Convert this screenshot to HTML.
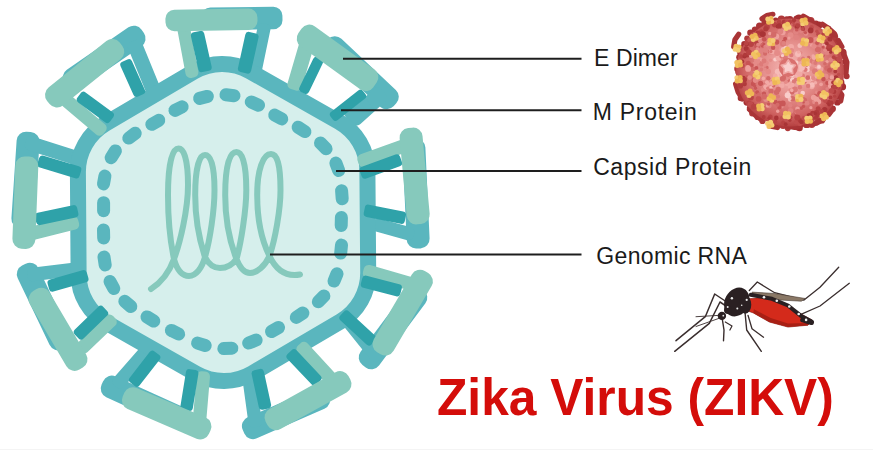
<!DOCTYPE html>
<html><head><meta charset="utf-8"><style>
html,body{margin:0;padding:0;background:#fff;}
body{width:873px;height:450px;overflow:hidden;position:relative;font-family:"Liberation Sans",sans-serif;}
svg{position:absolute;left:0;top:0;}
.lb{position:absolute;font-size:23px;color:#1a1a1a;white-space:nowrap;line-height:1;}
.ttl{position:absolute;font-size:51.3px;font-weight:bold;color:#d40d0a;white-space:nowrap;line-height:1;transform-origin:0 0;transform:scaleX(0.969);}
</style></head><body>
<svg width="873" height="450" viewBox="0 0 873 450">
<polygon points="210.5,20.9 273.5,20.3 273.4,15.8 210.4,16.4" fill="#5ab6be" stroke="#5ab6be" stroke-width="18" stroke-linejoin="round"/>
<polygon points="262.5,28.1 252.9,74.5 255.9,75.1 265.5,28.7" fill="#5ab6be" stroke="#5ab6be" stroke-width="10" stroke-linejoin="round"/>
<polygon points="332.2,48.6 386.6,99.8 389.3,96.9 334.9,45.7" fill="#5ab6be" stroke="#5ab6be" stroke-width="19.0" stroke-linejoin="round"/>
<polygon points="377.4,92.6 352.4,115.2 357.1,120.4 382.1,97.8" fill="#5ab6be" stroke="#5ab6be" stroke-width="10" stroke-linejoin="round"/>
<polygon points="411.9,148.1 416.1,239.1 420.1,238.9 415.9,147.9" fill="#5ab6be" stroke="#5ab6be" stroke-width="19.0" stroke-linejoin="round"/>
<polygon points="377.2,226.7 408.6,235.4 409.5,232.0 378.1,223.3" fill="#5ab6be" stroke="#5ab6be" stroke-width="10" stroke-linejoin="round"/>
<polygon points="414.6,295.2 368.2,357.4 371.4,359.8 417.8,297.6" fill="#5ab6be" stroke="#5ab6be" stroke-width="19.0" stroke-linejoin="round"/>
<polygon points="344.0,318.6 374.7,357.0 377.4,354.8 346.7,316.4" fill="#5ab6be" stroke="#5ab6be" stroke-width="10" stroke-linejoin="round"/>
<polygon points="319.0,396.4 251.4,426.0 253.0,429.6 320.6,400.0" fill="#5ab6be" stroke="#5ab6be" stroke-width="19.0" stroke-linejoin="round"/>
<polygon points="247.1,376.5 253.4,422.5 256.9,422.1 250.6,376.1" fill="#5ab6be" stroke="#5ab6be" stroke-width="10" stroke-linejoin="round"/>
<polygon points="181.4,416.7 111.8,385.1 110.2,388.7 179.8,420.3" fill="#5ab6be" stroke="#5ab6be" stroke-width="19.0" stroke-linejoin="round"/>
<polygon points="144.0,350.9 117.3,381.4 120.0,383.7 146.7,353.2" fill="#5ab6be" stroke="#5ab6be" stroke-width="10" stroke-linejoin="round"/>
<polygon points="61.7,338.9 29.9,272.3 26.3,274.1 58.1,340.7" fill="#5ab6be" stroke="#5ab6be" stroke-width="19.0" stroke-linejoin="round"/>
<polygon points="32.5,276.3 83.9,269.9 83.5,266.4 32.1,272.8" fill="#5ab6be" stroke="#5ab6be" stroke-width="10" stroke-linejoin="round"/>
<polygon points="24.9,219.1 30.1,141.4 26.1,141.2 20.9,218.9" fill="#5ab6be" stroke="#5ab6be" stroke-width="19.0" stroke-linejoin="round"/>
<polygon points="29.6,145.4 74.4,159.8 75.7,155.6 30.9,141.2" fill="#5ab6be" stroke="#5ab6be" stroke-width="10" stroke-linejoin="round"/>
<polygon points="74.5,80.8 136.1,38.5 133.8,35.2 72.2,77.5" fill="#5ab6be" stroke="#5ab6be" stroke-width="19.0" stroke-linejoin="round"/>
<polygon points="132.8,46.6 150.6,90.0 155.2,88.1 137.4,44.7" fill="#5ab6be" stroke="#5ab6be" stroke-width="10" stroke-linejoin="round"/>
<polygon points="343,113 366,99 374,110 352,126" fill="#5ab6be"/>
<path d="M195.0,71.5 A56,56 0 0 1 251.0,71.5 L339.8,122.8 A56,56 0 0 1 367.8,171.3 L367.8,273.7 A56,56 0 0 1 339.8,322.2 L251.0,373.5 A56,56 0 0 1 195.0,373.5 L106.2,322.2 A56,56 0 0 1 78.2,273.7 L78.3,171.3 A56,56 0 0 1 106.3,122.8 Z" fill="#d6efec" stroke="#5ab6be" stroke-width="16" transform="rotate(-0.45 223 222.5)"/>
<polygon points="182.5,30.0 190.5,73.0 193.4,72.4 185.4,29.4" fill="#86c9bc" stroke="#86c9bc" stroke-width="10" stroke-linejoin="round"/>
<polygon points="303.8,45.3 292.4,84.3 297.2,85.7 308.6,46.7" fill="#86c9bc" stroke="#86c9bc" stroke-width="10" stroke-linejoin="round"/>
<polygon points="405.5,143.4 362.3,159.0 363.5,162.3 406.7,146.7" fill="#86c9bc" stroke="#86c9bc" stroke-width="10" stroke-linejoin="round"/>
<polygon points="367.8,273.3 412.6,286.1 413.5,282.7 368.7,269.9" fill="#86c9bc" stroke="#86c9bc" stroke-width="10" stroke-linejoin="round"/>
<polygon points="301.4,349.2 332.0,382.5 334.6,380.1 304.0,346.8" fill="#86c9bc" stroke="#86c9bc" stroke-width="10" stroke-linejoin="round"/>
<polygon points="201.5,376.2 197.6,422.2 201.1,422.4 205.0,376.4" fill="#86c9bc" stroke="#86c9bc" stroke-width="10" stroke-linejoin="round"/>
<polygon points="109.4,319.4 81.5,346.0 83.9,348.6 111.8,322.0" fill="#86c9bc" stroke="#86c9bc" stroke-width="10" stroke-linejoin="round"/>
<polygon points="73.3,221.2 32.5,231.4 33.4,234.8 74.2,224.6" fill="#86c9bc" stroke="#86c9bc" stroke-width="10" stroke-linejoin="round"/>
<polygon points="66.3,102.7 99.4,130.7 101.7,128.0 68.6,100.0" fill="#86c9bc" stroke="#86c9bc" stroke-width="10" stroke-linejoin="round"/>
<polygon points="194.4,35.7 201.8,68.7 208.2,67.3 200.8,34.3" fill="#2fa2a9" stroke="#2fa2a9" stroke-width="7.0" stroke-linejoin="round"/>
<polygon points="248.7,35.4 241.4,68.7 247.7,70.1 255.1,36.8" fill="#2fa2a9" stroke="#2fa2a9" stroke-width="7.0" stroke-linejoin="round"/>
<polygon points="316.4,60.3 302.7,88.8 305.8,90.4 319.5,61.9" fill="#2fa2a9" stroke="#2fa2a9" stroke-width="7.0" stroke-linejoin="round"/>
<polygon points="360.4,93.3 333.4,114.5 335.6,117.3 362.6,96.1" fill="#2fa2a9" stroke="#2fa2a9" stroke-width="7.0" stroke-linejoin="round"/>
<polygon points="365.0,175.2 398.6,162.9 396.7,157.8 363.1,170.1" fill="#2fa2a9" stroke="#2fa2a9" stroke-width="7.0" stroke-linejoin="round"/>
<polygon points="367.2,213.5 401.4,220.4 402.5,215.0 368.3,208.1" fill="#2fa2a9" stroke="#2fa2a9" stroke-width="7.0" stroke-linejoin="round"/>
<polygon points="364.3,284.4 397.0,292.9 398.4,287.6 365.7,279.1" fill="#2fa2a9" stroke="#2fa2a9" stroke-width="7.0" stroke-linejoin="round"/>
<polygon points="342.9,318.0 368.9,342.0 372.6,338.0 346.6,314.0" fill="#2fa2a9" stroke="#2fa2a9" stroke-width="7.0" stroke-linejoin="round"/>
<polygon points="290.0,356.5 314.0,381.9 318.0,378.1 294.0,352.7" fill="#2fa2a9" stroke="#2fa2a9" stroke-width="7.0" stroke-linejoin="round"/>
<polygon points="255.1,373.6 262.2,406.3 267.6,405.1 260.5,372.4" fill="#2fa2a9" stroke="#2fa2a9" stroke-width="7.0" stroke-linejoin="round"/>
<polygon points="189.4,372.6 183.9,406.5 189.4,407.4 194.9,373.5" fill="#2fa2a9" stroke="#2fa2a9" stroke-width="7.0" stroke-linejoin="round"/>
<polygon points="152.4,354.2 132.5,379.8 136.9,383.2 156.8,357.6" fill="#2fa2a9" stroke="#2fa2a9" stroke-width="7.0" stroke-linejoin="round"/>
<polygon points="100.8,309.3 77.3,332.0 81.1,336.0 104.6,313.3" fill="#2fa2a9" stroke="#2fa2a9" stroke-width="7.0" stroke-linejoin="round"/>
<polygon points="52.5,288.2 85.0,278.9 83.5,273.6 51.0,282.9" fill="#2fa2a9" stroke="#2fa2a9" stroke-width="7.0" stroke-linejoin="round"/>
<polygon points="39.6,221.6 74.9,214.0 73.7,208.6 38.4,216.2" fill="#2fa2a9" stroke="#2fa2a9" stroke-width="7.0" stroke-linejoin="round"/>
<polygon points="40.9,164.2 76.2,174.9 77.8,169.7 42.5,159.0" fill="#2fa2a9" stroke="#2fa2a9" stroke-width="7.0" stroke-linejoin="round"/>
<polygon points="80.3,99.6 107.2,119.5 110.4,115.1 83.5,95.2" fill="#2fa2a9" stroke="#2fa2a9" stroke-width="7.0" stroke-linejoin="round"/>
<polygon points="123.8,64.9 136.6,93.3 141.6,91.1 128.8,62.7" fill="#2fa2a9" stroke="#2fa2a9" stroke-width="7.0" stroke-linejoin="round"/>
<polygon points="174.5,22.2 248.5,21.0 248.4,17.5 174.4,18.7" fill="#86c9bc" stroke="#86c9bc" stroke-width="18" stroke-linejoin="round"/>
<polygon points="306.2,38.6 365.7,81.6 368.9,77.1 309.4,34.1" fill="#86c9bc" stroke="#86c9bc" stroke-width="19.0" stroke-linejoin="round"/>
<polygon points="409.1,137.5 416.2,214.9 420.2,214.5 413.1,137.1" fill="#86c9bc" stroke="#86c9bc" stroke-width="19.0" stroke-linejoin="round"/>
<polygon points="420.0,279.3 382.0,344.0 385.4,346.0 423.4,281.3" fill="#86c9bc" stroke="#86c9bc" stroke-width="19.0" stroke-linejoin="round"/>
<polygon points="340.1,380.6 274.0,417.2 275.9,420.7 342.0,384.1" fill="#86c9bc" stroke="#86c9bc" stroke-width="19.0" stroke-linejoin="round"/>
<polygon points="201.9,426.3 133.0,396.7 131.4,400.3 200.3,429.9" fill="#86c9bc" stroke="#86c9bc" stroke-width="19.0" stroke-linejoin="round"/>
<polygon points="78.0,359.4 41.4,297.3 38.0,299.3 74.6,361.4" fill="#86c9bc" stroke="#86c9bc" stroke-width="19.0" stroke-linejoin="round"/>
<polygon points="25.9,239.4 28.8,166.1 24.8,165.9 21.9,239.2" fill="#86c9bc" stroke="#86c9bc" stroke-width="19.0" stroke-linejoin="round"/>
<polygon points="57.0,98.1 114.8,51.6 112.3,48.5 54.5,95.0" fill="#86c9bc" stroke="#86c9bc" stroke-width="19.0" stroke-linejoin="round"/>
<line x1="226.0" y1="94.7" x2="234.0" y2="95.7" stroke="#5ab6be" stroke-width="13" stroke-linecap="round"/>
<line x1="251.3" y1="102.0" x2="258.5" y2="105.2" stroke="#5ab6be" stroke-width="13" stroke-linecap="round"/>
<line x1="274.7" y1="115.1" x2="281.7" y2="118.9" stroke="#5ab6be" stroke-width="13" stroke-linecap="round"/>
<line x1="298.1" y1="127.2" x2="304.9" y2="131.6" stroke="#5ab6be" stroke-width="13" stroke-linecap="round"/>
<line x1="320.5" y1="143.0" x2="326.1" y2="148.8" stroke="#5ab6be" stroke-width="13" stroke-linecap="round"/>
<line x1="335.9" y1="163.1" x2="338.7" y2="170.5" stroke="#5ab6be" stroke-width="13" stroke-linecap="round"/>
<line x1="341.6" y1="190.8" x2="342.2" y2="198.8" stroke="#5ab6be" stroke-width="13" stroke-linecap="round"/>
<line x1="341.4" y1="217.5" x2="341.2" y2="225.5" stroke="#5ab6be" stroke-width="13" stroke-linecap="round"/>
<line x1="341.5" y1="245.1" x2="340.7" y2="253.1" stroke="#5ab6be" stroke-width="13" stroke-linecap="round"/>
<line x1="337.0" y1="273.7" x2="334.0" y2="281.1" stroke="#5ab6be" stroke-width="13" stroke-linecap="round"/>
<line x1="323.9" y1="296.0" x2="318.3" y2="301.8" stroke="#5ab6be" stroke-width="13" stroke-linecap="round"/>
<line x1="302.9" y1="313.0" x2="296.3" y2="317.4" stroke="#5ab6be" stroke-width="13" stroke-linecap="round"/>
<line x1="278.5" y1="327.5" x2="271.5" y2="331.5" stroke="#5ab6be" stroke-width="13" stroke-linecap="round"/>
<line x1="256.1" y1="340.1" x2="248.7" y2="343.1" stroke="#5ab6be" stroke-width="13" stroke-linecap="round"/>
<line x1="231.8" y1="348.2" x2="223.8" y2="348.6" stroke="#5ab6be" stroke-width="13" stroke-linecap="round"/>
<line x1="205.2" y1="345.5" x2="197.6" y2="343.1" stroke="#5ab6be" stroke-width="13" stroke-linecap="round"/>
<line x1="178.6" y1="334.0" x2="171.4" y2="330.4" stroke="#5ab6be" stroke-width="13" stroke-linecap="round"/>
<line x1="153.8" y1="321.1" x2="147.0" y2="316.9" stroke="#5ab6be" stroke-width="13" stroke-linecap="round"/>
<line x1="130.8" y1="306.5" x2="124.8" y2="301.3" stroke="#5ab6be" stroke-width="13" stroke-linecap="round"/>
<line x1="113.8" y1="288.5" x2="110.0" y2="281.5" stroke="#5ab6be" stroke-width="13" stroke-linecap="round"/>
<line x1="105.2" y1="264.9" x2="104.0" y2="257.1" stroke="#5ab6be" stroke-width="13" stroke-linecap="round"/>
<line x1="103.7" y1="238.0" x2="103.5" y2="230.0" stroke="#5ab6be" stroke-width="13" stroke-linecap="round"/>
<line x1="103.6" y1="210.7" x2="103.6" y2="202.7" stroke="#5ab6be" stroke-width="13" stroke-linecap="round"/>
<line x1="103.5" y1="183.9" x2="104.9" y2="176.1" stroke="#5ab6be" stroke-width="13" stroke-linecap="round"/>
<line x1="111.2" y1="157.7" x2="115.4" y2="150.9" stroke="#5ab6be" stroke-width="13" stroke-linecap="round"/>
<line x1="128.8" y1="138.1" x2="135.2" y2="133.3" stroke="#5ab6be" stroke-width="13" stroke-linecap="round"/>
<line x1="151.8" y1="124.3" x2="158.8" y2="120.3" stroke="#5ab6be" stroke-width="13" stroke-linecap="round"/>
<line x1="175.0" y1="110.4" x2="182.2" y2="106.8" stroke="#5ab6be" stroke-width="13" stroke-linecap="round"/>
<line x1="199.6" y1="98.4" x2="207.4" y2="96.4" stroke="#5ab6be" stroke-width="13" stroke-linecap="round"/>
<path d="M151,289 C162,282 170,270 174,259 C180,243 188,210 188,185 C188,160 184,148.5 178.5,148.5 C172,148.5 168,165 168,195 C168,225 171,245 174,259 C177,270 182,276 189,276 C196,276 202,268 205,257 C210,240 214.5,210 214.5,190 C214.5,165 210.5,155 205,155 C199,155 195.2,170 195.2,195 C195.2,225 201,245 205,257 C209,265 214,268 220,268 C227,268 233,264 236.5,259 C241,243 246.3,210 246.3,190 C246.3,163 242,152 236.5,152 C229,152 225.2,168 225.2,195 C225.2,225 231,245 236.5,259 C240,268 245,273 250,273 C257,273 265,266 269.5,256 C275,240 280.5,210 280.5,190 C280.5,164 277,154 271,154 C263,154 257.2,170 257.2,195 C257.2,225 263,243 269.5,256 C276,270 286,277 300,274.5" fill="none" stroke="#86c9bc" stroke-width="6" stroke-linecap="round" stroke-linejoin="round"/>
<line x1="343" y1="58.7" x2="581.5" y2="58.7" stroke="#1e1e1e" stroke-width="2"/>
<line x1="341" y1="110.2" x2="581.5" y2="110.2" stroke="#1e1e1e" stroke-width="2"/>
<line x1="336" y1="171" x2="581.5" y2="171" stroke="#1e1e1e" stroke-width="2"/>
<line x1="270" y1="254.5" x2="581.5" y2="254.5" stroke="#1e1e1e" stroke-width="2"/>
<defs><radialGradient id="sg" cx="50%" cy="47%" r="55%"><stop offset="0" stop-color="#f6bcb9"/><stop offset="0.45" stop-color="#e58f8c"/><stop offset="0.78" stop-color="#d06462"/><stop offset="1" stop-color="#b03a3b"/></radialGradient></defs>
<circle cx="843.9" cy="71.7" r="2.9" fill="#a52f32"/>
<circle cx="846.6" cy="76.2" r="3.0" fill="#a93436"/>
<circle cx="841.1" cy="82.4" r="3.3" fill="#a52f32"/>
<circle cx="842.3" cy="86.7" r="3.8" fill="#a52f32"/>
<circle cx="838.2" cy="92.8" r="3.4" fill="#a93436"/>
<circle cx="836.7" cy="96.5" r="3.1" fill="#a52f32"/>
<circle cx="837.3" cy="102.4" r="3.2" fill="#a52f32"/>
<circle cx="832.6" cy="108.7" r="3.3" fill="#a52f32"/>
<circle cx="828.8" cy="110.8" r="3.3" fill="#b03a3b"/>
<circle cx="825.3" cy="113.8" r="2.9" fill="#b03a3b"/>
<circle cx="822.0" cy="120.5" r="3.1" fill="#a93436"/>
<circle cx="817.6" cy="120.6" r="3.0" fill="#b03a3b"/>
<circle cx="811.9" cy="124.6" r="3.4" fill="#b03a3b"/>
<circle cx="806.5" cy="124.4" r="3.7" fill="#a93436"/>
<circle cx="799.5" cy="127.9" r="3.3" fill="#a52f32"/>
<circle cx="797.3" cy="127.2" r="3.1" fill="#a52f32"/>
<circle cx="787.8" cy="128.1" r="3.1" fill="#b03a3b"/>
<circle cx="783.1" cy="125.3" r="3.8" fill="#b03a3b"/>
<circle cx="781.2" cy="123.8" r="2.9" fill="#b03a3b"/>
<circle cx="776.2" cy="123.4" r="3.2" fill="#b03a3b"/>
<circle cx="771.1" cy="122.8" r="3.4" fill="#a93436"/>
<circle cx="762.4" cy="121.0" r="3.1" fill="#b03a3b"/>
<circle cx="757.7" cy="116.9" r="3.2" fill="#a93436"/>
<circle cx="757.9" cy="113.9" r="3.1" fill="#a93436"/>
<circle cx="752.2" cy="113.4" r="3.0" fill="#b03a3b"/>
<circle cx="750.0" cy="108.1" r="3.2" fill="#a52f32"/>
<circle cx="747.1" cy="102.1" r="3.7" fill="#a52f32"/>
<circle cx="741.0" cy="97.9" r="3.3" fill="#a52f32"/>
<circle cx="740.1" cy="91.8" r="3.2" fill="#a93436"/>
<circle cx="738.8" cy="88.1" r="3.0" fill="#a93436"/>
<circle cx="739.0" cy="82.9" r="3.5" fill="#a93436"/>
<circle cx="738.2" cy="79.7" r="2.9" fill="#b03a3b"/>
<circle cx="738.2" cy="72.0" r="3.0" fill="#b03a3b"/>
<circle cx="737.4" cy="68.8" r="3.2" fill="#b03a3b"/>
<circle cx="738.9" cy="62.4" r="3.3" fill="#b03a3b"/>
<circle cx="739.2" cy="57.2" r="3.0" fill="#a52f32"/>
<circle cx="740.9" cy="52.9" r="3.7" fill="#a93436"/>
<circle cx="743.7" cy="47.7" r="3.8" fill="#b03a3b"/>
<circle cx="744.1" cy="43.7" r="2.8" fill="#a52f32"/>
<circle cx="747.1" cy="38.5" r="2.9" fill="#b03a3b"/>
<circle cx="750.4" cy="32.8" r="3.2" fill="#a93436"/>
<circle cx="755.0" cy="29.6" r="3.2" fill="#a93436"/>
<circle cx="759.6" cy="26.1" r="3.6" fill="#a93436"/>
<circle cx="765.0" cy="22.8" r="3.6" fill="#a93436"/>
<circle cx="768.2" cy="23.2" r="3.6" fill="#a93436"/>
<circle cx="775.6" cy="20.6" r="3.0" fill="#a52f32"/>
<circle cx="781.4" cy="19.4" r="3.8" fill="#b03a3b"/>
<circle cx="786.7" cy="19.3" r="3.0" fill="#a93436"/>
<circle cx="789.9" cy="19.3" r="3.3" fill="#a52f32"/>
<circle cx="796.7" cy="19.0" r="3.5" fill="#a52f32"/>
<circle cx="798.9" cy="18.4" r="3.8" fill="#a52f32"/>
<circle cx="806.7" cy="21.3" r="3.0" fill="#a52f32"/>
<circle cx="810.6" cy="20.9" r="3.9" fill="#b03a3b"/>
<circle cx="816.0" cy="23.5" r="3.0" fill="#a93436"/>
<circle cx="819.1" cy="25.1" r="3.5" fill="#a52f32"/>
<circle cx="828.0" cy="28.6" r="3.2" fill="#a52f32"/>
<circle cx="828.1" cy="34.7" r="3.6" fill="#a93436"/>
<circle cx="834.3" cy="36.3" r="3.8" fill="#a93436"/>
<circle cx="833.6" cy="40.9" r="3.6" fill="#b03a3b"/>
<circle cx="837.1" cy="46.2" r="3.8" fill="#b03a3b"/>
<circle cx="843.2" cy="52.4" r="3.4" fill="#a52f32"/>
<circle cx="840.7" cy="55.5" r="3.8" fill="#a93436"/>
<circle cx="844.8" cy="62.1" r="3.0" fill="#a52f32"/>
<circle cx="844.9" cy="68.1" r="3.4" fill="#a52f32"/>
<polyline points="842.9,51.3 846.9,62.2 846.0,73.1" fill="none" stroke="#a93436" stroke-width="5.2" stroke-linecap="round" stroke-linejoin="round"/>
<polyline points="822.6,24.3 828.9,28.6 834.5,33.6" fill="none" stroke="#a93436" stroke-width="5.2" stroke-linecap="round" stroke-linejoin="round"/>
<polyline points="803.4,16.2 808.6,19.3 813.9,23.6" fill="none" stroke="#a93436" stroke-width="5.2" stroke-linecap="round" stroke-linejoin="round"/>
<polyline points="837.6,88.6 841.9,94.9 840.7,101.1" fill="none" stroke="#a93436" stroke-width="5.2" stroke-linecap="round" stroke-linejoin="round"/>
<polyline points="829.5,105.1 832.6,109.5 828.9,114.5" fill="none" stroke="#a93436" stroke-width="5.2" stroke-linecap="round" stroke-linejoin="round"/>
<polyline points="808.6,125.0 816.4,123.2 823.3,119.4" fill="none" stroke="#a93436" stroke-width="5.2" stroke-linecap="round" stroke-linejoin="round"/>
<polyline points="786.9,126.0 794.7,127.5 801.5,125.0" fill="none" stroke="#a93436" stroke-width="5.2" stroke-linecap="round" stroke-linejoin="round"/>
<polyline points="738.7,34.2 734.9,39.8 733.7,46.7" fill="none" stroke="#a93436" stroke-width="5.2" stroke-linecap="round" stroke-linejoin="round"/>
<polyline points="735.6,84.0 738.0,91.8 742.4,98.9" fill="none" stroke="#a93436" stroke-width="5.2" stroke-linecap="round" stroke-linejoin="round"/>
<polyline points="749.5,109.5 755.8,115.7 762.9,120.7" fill="none" stroke="#a93436" stroke-width="5.2" stroke-linecap="round" stroke-linejoin="round"/>
<polyline points="762.0,18.7 766.7,15.6 772.9,14.3" fill="none" stroke="#a93436" stroke-width="5.2" stroke-linecap="round" stroke-linejoin="round"/>
<polyline points="838.2,40.4 841.9,46.7" fill="none" stroke="#a93436" stroke-width="5.2" stroke-linecap="round" stroke-linejoin="round"/>
<polyline points="769.8,126.0 777.5,127.5" fill="none" stroke="#a93436" stroke-width="5.2" stroke-linecap="round" stroke-linejoin="round"/>
<circle cx="790" cy="72.5" r="54" fill="url(#sg)"/>
<circle cx="743.6" cy="77.6" r="1.9" fill="#b03a3b"/>
<circle cx="782.2" cy="118.3" r="2.4" fill="#c04c4c"/>
<circle cx="793.2" cy="22.0" r="2.1" fill="#c04c4c"/>
<circle cx="830.6" cy="65.6" r="2.6" fill="#d46a68"/>
<circle cx="753.1" cy="83.9" r="2.3" fill="#c85454"/>
<circle cx="790.6" cy="110.8" r="2.9" fill="#e08280"/>
<circle cx="808.6" cy="57.6" r="1.8" fill="#d46a68"/>
<circle cx="815.4" cy="96.8" r="2.5" fill="#c95757"/>
<circle cx="768.0" cy="83.1" r="2.7" fill="#f2aaa6"/>
<circle cx="806.6" cy="60.0" r="2.5" fill="#f2aaa6"/>
<circle cx="772.2" cy="92.3" r="3.0" fill="#e58b88"/>
<circle cx="799.8" cy="123.2" r="2.8" fill="#c04c4c"/>
<circle cx="812.5" cy="109.4" r="1.8" fill="#d46a68"/>
<circle cx="755.5" cy="88.3" r="2.2" fill="#e08280"/>
<circle cx="780.0" cy="85.1" r="1.6" fill="#f2aaa6"/>
<circle cx="756.9" cy="60.8" r="2.1" fill="#c95757"/>
<circle cx="761.4" cy="69.4" r="1.8" fill="#dd7a78"/>
<circle cx="812.1" cy="60.1" r="1.7" fill="#dd7a78"/>
<circle cx="783.1" cy="122.4" r="2.0" fill="#b84242"/>
<circle cx="813.6" cy="97.5" r="2.7" fill="#eea09c"/>
<circle cx="788.9" cy="92.9" r="2.4" fill="#f6bcb8"/>
<circle cx="785.1" cy="57.4" r="2.7" fill="#dd7a78"/>
<circle cx="810.4" cy="118.2" r="2.9" fill="#a93436"/>
<circle cx="758.5" cy="37.1" r="2.5" fill="#b03a3b"/>
<circle cx="794.7" cy="99.3" r="2.2" fill="#dd7a78"/>
<circle cx="769.1" cy="105.8" r="2.5" fill="#e08280"/>
<circle cx="832.9" cy="84.5" r="3.0" fill="#b03a3b"/>
<circle cx="788.3" cy="95.0" r="2.5" fill="#f2aaa6"/>
<circle cx="766.4" cy="67.8" r="2.3" fill="#d46a68"/>
<circle cx="803.6" cy="100.5" r="3.0" fill="#c95757"/>
<circle cx="797.0" cy="74.2" r="2.4" fill="#f6bcb8"/>
<circle cx="803.5" cy="106.4" r="1.7" fill="#c85454"/>
<circle cx="804.6" cy="40.9" r="2.4" fill="#c85454"/>
<circle cx="829.9" cy="39.0" r="2.6" fill="#a93436"/>
<circle cx="820.8" cy="69.1" r="2.6" fill="#eea09c"/>
<circle cx="823.6" cy="113.0" r="2.8" fill="#b03a3b"/>
<circle cx="831.7" cy="76.2" r="2.2" fill="#e08280"/>
<circle cx="830.6" cy="87.2" r="2.8" fill="#c85454"/>
<circle cx="776.5" cy="47.8" r="2.6" fill="#e58b88"/>
<circle cx="811.9" cy="78.9" r="2.2" fill="#f2aaa6"/>
<circle cx="785.7" cy="124.2" r="1.9" fill="#a93436"/>
<circle cx="818.8" cy="66.2" r="1.9" fill="#f2aaa6"/>
<circle cx="782.2" cy="85.7" r="2.3" fill="#f2aaa6"/>
<circle cx="801.4" cy="108.3" r="1.7" fill="#c95757"/>
<circle cx="798.2" cy="54.2" r="1.7" fill="#f6bcb8"/>
<circle cx="818.9" cy="76.6" r="1.7" fill="#e58b88"/>
<circle cx="837.2" cy="59.6" r="2.5" fill="#b84242"/>
<circle cx="779.5" cy="24.0" r="2.7" fill="#c04c4c"/>
<circle cx="783.2" cy="35.9" r="2.6" fill="#e08280"/>
<circle cx="783.1" cy="63.8" r="2.6" fill="#f9cdca"/>
<circle cx="755.4" cy="69.7" r="2.7" fill="#eea09c"/>
<circle cx="814.5" cy="101.9" r="2.4" fill="#e58b88"/>
<circle cx="792.6" cy="66.3" r="2.4" fill="#f2aaa6"/>
<circle cx="824.2" cy="45.2" r="2.5" fill="#eea09c"/>
<circle cx="799.3" cy="78.0" r="2.1" fill="#f2aaa6"/>
<circle cx="828.2" cy="102.1" r="2.5" fill="#b03a3b"/>
<circle cx="759.4" cy="41.4" r="2.0" fill="#c85454"/>
<circle cx="776.5" cy="76.2" r="2.9" fill="#f6bcb8"/>
<circle cx="822.2" cy="93.5" r="2.6" fill="#eea09c"/>
<circle cx="789.8" cy="86.9" r="1.9" fill="#f2aaa6"/>
<circle cx="791.0" cy="47.1" r="3.0" fill="#f2aaa6"/>
<circle cx="757.3" cy="73.7" r="2.9" fill="#c85454"/>
<circle cx="787.3" cy="83.6" r="2.5" fill="#f2aaa6"/>
<circle cx="808.0" cy="82.0" r="2.5" fill="#f2aaa6"/>
<circle cx="775.4" cy="33.4" r="1.6" fill="#d46a68"/>
<circle cx="815.5" cy="82.7" r="1.7" fill="#f2aaa6"/>
<circle cx="797.5" cy="108.8" r="2.3" fill="#eea09c"/>
<circle cx="754.7" cy="80.5" r="3.0" fill="#c95757"/>
<circle cx="761.8" cy="63.5" r="2.9" fill="#dd7a78"/>
<circle cx="825.6" cy="76.4" r="3.0" fill="#e58b88"/>
<circle cx="763.9" cy="81.1" r="2.9" fill="#e58b88"/>
<circle cx="803.1" cy="66.4" r="1.8" fill="#dd7a78"/>
<circle cx="738.9" cy="64.7" r="2.4" fill="#b84242"/>
<circle cx="771.1" cy="51.9" r="2.6" fill="#dd7a78"/>
<circle cx="795.9" cy="122.3" r="2.2" fill="#c04c4c"/>
<circle cx="817.9" cy="115.9" r="2.2" fill="#c04c4c"/>
<circle cx="785.1" cy="38.7" r="2.0" fill="#c85454"/>
<circle cx="791.2" cy="70.6" r="2.1" fill="#f9cdca"/>
<circle cx="748.8" cy="103.1" r="2.6" fill="#b84242"/>
<circle cx="813.2" cy="56.0" r="1.7" fill="#f2aaa6"/>
<circle cx="751.9" cy="103.9" r="2.1" fill="#b03a3b"/>
<circle cx="765.0" cy="84.6" r="2.0" fill="#dd7a78"/>
<circle cx="830.8" cy="86.2" r="2.9" fill="#eea09c"/>
<circle cx="790.1" cy="99.8" r="2.0" fill="#f6bcb8"/>
<circle cx="796.8" cy="26.1" r="2.8" fill="#c04c4c"/>
<circle cx="806.0" cy="33.6" r="2.4" fill="#e58b88"/>
<circle cx="787.8" cy="60.9" r="2.2" fill="#f2aaa6"/>
<circle cx="775.2" cy="59.5" r="2.0" fill="#f9cdca"/>
<circle cx="838.6" cy="87.9" r="1.8" fill="#b84242"/>
<circle cx="765.8" cy="86.8" r="2.6" fill="#f2aaa6"/>
<circle cx="816.7" cy="68.5" r="1.9" fill="#f2aaa6"/>
<circle cx="747.0" cy="77.1" r="1.8" fill="#c95757"/>
<circle cx="802.7" cy="93.0" r="2.3" fill="#f9cdca"/>
<circle cx="799.4" cy="122.0" r="2.2" fill="#c04c4c"/>
<circle cx="765.0" cy="64.8" r="2.1" fill="#e58b88"/>
<circle cx="811.8" cy="86.5" r="2.7" fill="#f2aaa6"/>
<circle cx="792.2" cy="79.7" r="2.2" fill="#f9cdca"/>
<circle cx="757.2" cy="92.2" r="2.0" fill="#c85454"/>
<circle cx="790.5" cy="35.2" r="3.0" fill="#e58b88"/>
<circle cx="816.4" cy="99.2" r="2.7" fill="#eea09c"/>
<circle cx="799.4" cy="59.4" r="2.1" fill="#e58b88"/>
<circle cx="768.8" cy="44.9" r="2.8" fill="#e08280"/>
<circle cx="795.5" cy="66.9" r="2.2" fill="#dd7a78"/>
<circle cx="794.1" cy="25.2" r="1.6" fill="#c04c4c"/>
<circle cx="750.4" cy="104.6" r="3.0" fill="#c04c4c"/>
<circle cx="790.2" cy="90.0" r="1.8" fill="#e58b88"/>
<circle cx="807.2" cy="69.4" r="2.6" fill="#f9cdca"/>
<circle cx="762.2" cy="35.5" r="1.7" fill="#c04c4c"/>
<circle cx="790.3" cy="70.6" r="1.9" fill="#e58b88"/>
<circle cx="827.2" cy="52.0" r="2.9" fill="#e08280"/>
<circle cx="763.1" cy="45.1" r="2.6" fill="#c85454"/>
<circle cx="800.7" cy="81.6" r="2.9" fill="#f6bcb8"/>
<circle cx="799.7" cy="97.7" r="2.4" fill="#f9cdca"/>
<circle cx="819.0" cy="74.4" r="2.0" fill="#d46a68"/>
<circle cx="770.4" cy="116.8" r="2.3" fill="#b84242"/>
<circle cx="792.5" cy="98.7" r="2.6" fill="#d46a68"/>
<circle cx="787.2" cy="79.8" r="2.8" fill="#d46a68"/>
<circle cx="780.9" cy="60.5" r="2.5" fill="#e58b88"/>
<circle cx="812.5" cy="61.1" r="2.6" fill="#dd7a78"/>
<circle cx="783.7" cy="41.3" r="1.9" fill="#c85454"/>
<circle cx="803.3" cy="29.0" r="1.9" fill="#b03a3b"/>
<circle cx="819.0" cy="66.9" r="1.9" fill="#f9cdca"/>
<circle cx="763.4" cy="78.4" r="1.8" fill="#f2aaa6"/>
<circle cx="760.5" cy="43.5" r="2.3" fill="#d46a68"/>
<circle cx="800.6" cy="65.8" r="1.8" fill="#f6bcb8"/>
<circle cx="770.8" cy="87.7" r="1.8" fill="#f6bcb8"/>
<circle cx="802.3" cy="76.7" r="2.2" fill="#d46a68"/>
<circle cx="783.0" cy="43.7" r="3.0" fill="#dd7a78"/>
<circle cx="817.6" cy="59.8" r="2.5" fill="#d46a68"/>
<circle cx="754.3" cy="66.9" r="2.5" fill="#e08280"/>
<circle cx="766.6" cy="94.9" r="2.2" fill="#e08280"/>
<circle cx="801.5" cy="81.9" r="2.1" fill="#dd7a78"/>
<circle cx="807.9" cy="67.4" r="1.9" fill="#f9cdca"/>
<circle cx="760.2" cy="110.1" r="1.7" fill="#c04c4c"/>
<circle cx="783.5" cy="50.0" r="2.9" fill="#f6bcb8"/>
<circle cx="801.2" cy="102.4" r="1.6" fill="#c85454"/>
<circle cx="749.6" cy="97.8" r="1.7" fill="#c04c4c"/>
<circle cx="802.9" cy="75.4" r="2.0" fill="#dd7a78"/>
<circle cx="789.1" cy="22.3" r="2.1" fill="#a93436"/>
<circle cx="763.7" cy="117.0" r="2.0" fill="#b03a3b"/>
<circle cx="783.8" cy="43.4" r="2.0" fill="#e08280"/>
<circle cx="782.7" cy="32.3" r="2.9" fill="#eea09c"/>
<circle cx="834.1" cy="91.7" r="2.3" fill="#b03a3b"/>
<circle cx="839.8" cy="58.6" r="2.7" fill="#c04c4c"/>
<circle cx="830.9" cy="47.8" r="2.9" fill="#b84242"/>
<circle cx="809.4" cy="115.8" r="2.8" fill="#a93436"/>
<circle cx="795.9" cy="31.7" r="2.8" fill="#e08280"/>
<circle cx="744.6" cy="83.9" r="2.3" fill="#b03a3b"/>
<circle cx="773.6" cy="85.8" r="1.7" fill="#d46a68"/>
<circle cx="828.5" cy="80.8" r="1.8" fill="#e08280"/>
<circle cx="774.6" cy="80.1" r="2.0" fill="#dd7a78"/>
<circle cx="804.2" cy="80.8" r="3.0" fill="#d46a68"/>
<circle cx="811.7" cy="68.7" r="2.2" fill="#e58b88"/>
<circle cx="758.4" cy="42.7" r="2.4" fill="#eea09c"/>
<circle cx="796.9" cy="26.9" r="2.0" fill="#a93436"/>
<circle cx="760.5" cy="59.3" r="2.0" fill="#eea09c"/>
<circle cx="768.8" cy="81.0" r="1.8" fill="#e58b88"/>
<circle cx="820.0" cy="45.7" r="1.7" fill="#e08280"/>
<circle cx="789.7" cy="98.7" r="1.9" fill="#f6bcb8"/>
<circle cx="805.4" cy="32.6" r="1.7" fill="#c95757"/>
<circle cx="742.7" cy="80.1" r="2.9" fill="#c04c4c"/>
<circle cx="817.8" cy="79.7" r="1.7" fill="#dd7a78"/>
<circle cx="751.1" cy="44.1" r="2.9" fill="#b84242"/>
<circle cx="755.8" cy="107.9" r="2.4" fill="#c04c4c"/>
<circle cx="796.7" cy="29.9" r="1.7" fill="#c95757"/>
<circle cx="755.7" cy="48.8" r="1.7" fill="#d46a68"/>
<circle cx="784.0" cy="81.9" r="1.7" fill="#f2aaa6"/>
<circle cx="784.4" cy="22.2" r="2.7" fill="#b03a3b"/>
<circle cx="762.9" cy="90.0" r="2.0" fill="#e58b88"/>
<circle cx="803.6" cy="117.7" r="1.7" fill="#c04c4c"/>
<circle cx="816.7" cy="92.3" r="1.8" fill="#e58b88"/>
<circle cx="748.2" cy="63.4" r="2.6" fill="#c85454"/>
<circle cx="766.2" cy="87.6" r="2.2" fill="#f2aaa6"/>
<circle cx="833.3" cy="87.0" r="2.2" fill="#a93436"/>
<circle cx="836.0" cy="77.8" r="2.5" fill="#a93436"/>
<circle cx="764.0" cy="93.8" r="2.2" fill="#c95757"/>
<circle cx="799.9" cy="87.3" r="2.2" fill="#dd7a78"/>
<circle cx="816.6" cy="48.4" r="1.8" fill="#d46a68"/>
<circle cx="808.9" cy="78.9" r="2.9" fill="#f9cdca"/>
<circle cx="825.4" cy="94.7" r="2.6" fill="#e08280"/>
<circle cx="804.7" cy="100.0" r="2.3" fill="#d46a68"/>
<circle cx="805.6" cy="64.6" r="2.7" fill="#d46a68"/>
<circle cx="802.4" cy="26.7" r="1.8" fill="#a93436"/>
<circle cx="839.0" cy="54.2" r="2.0" fill="#c04c4c"/>
<circle cx="757.1" cy="46.1" r="2.9" fill="#c95757"/>
<circle cx="755.0" cy="39.5" r="2.5" fill="#b84242"/>
<circle cx="815.9" cy="39.8" r="2.8" fill="#e58b88"/>
<circle cx="800.8" cy="52.6" r="1.7" fill="#e58b88"/>
<circle cx="809.4" cy="64.6" r="1.8" fill="#f2aaa6"/>
<circle cx="790.8" cy="117.5" r="1.7" fill="#b84242"/>
<circle cx="747.4" cy="54.9" r="2.5" fill="#b03a3b"/>
<circle cx="775.1" cy="102.0" r="2.4" fill="#c85454"/>
<circle cx="769.6" cy="51.5" r="2.0" fill="#d46a68"/>
<circle cx="790.2" cy="105.5" r="2.2" fill="#e08280"/>
<circle cx="782.5" cy="75.6" r="3.0" fill="#f6bcb8"/>
<circle cx="755.5" cy="80.2" r="2.7" fill="#e58b88"/>
<circle cx="768.3" cy="78.3" r="2.2" fill="#d46a68"/>
<circle cx="818.9" cy="85.5" r="1.7" fill="#e08280"/>
<circle cx="754.7" cy="86.0" r="1.7" fill="#c95757"/>
<circle cx="824.7" cy="109.6" r="2.7" fill="#a93436"/>
<circle cx="777.7" cy="71.6" r="2.9" fill="#f6bcb8"/>
<circle cx="763.1" cy="34.1" r="2.8" fill="#b03a3b"/>
<circle cx="835.3" cy="71.4" r="1.9" fill="#b03a3b"/>
<circle cx="826.9" cy="68.2" r="2.6" fill="#d46a68"/>
<circle cx="785.5" cy="48.0" r="2.1" fill="#f9cdca"/>
<circle cx="790.8" cy="51.4" r="2.0" fill="#f6bcb8"/>
<circle cx="798.0" cy="54.1" r="3.0" fill="#f6bcb8"/>
<circle cx="749.6" cy="77.6" r="2.3" fill="#e58b88"/>
<circle cx="785.7" cy="81.7" r="2.2" fill="#e58b88"/>
<circle cx="771.7" cy="51.4" r="2.9" fill="#f2aaa6"/>
<circle cx="812.9" cy="113.4" r="2.7" fill="#b03a3b"/>
<circle cx="836.8" cy="87.2" r="2.4" fill="#c04c4c"/>
<circle cx="746.4" cy="48.5" r="2.0" fill="#b03a3b"/>
<circle cx="742.2" cy="61.6" r="2.0" fill="#a93436"/>
<circle cx="830.1" cy="70.1" r="2.1" fill="#e08280"/>
<circle cx="812.1" cy="84.9" r="2.6" fill="#f6bcb8"/>
<circle cx="835.7" cy="86.8" r="2.0" fill="#a93436"/>
<circle cx="838.2" cy="62.0" r="2.6" fill="#a93436"/>
<circle cx="789.5" cy="47.6" r="2.5" fill="#f2aaa6"/>
<circle cx="755.5" cy="88.2" r="1.8" fill="#c95757"/>
<circle cx="796.1" cy="114.8" r="1.7" fill="#c95757"/>
<circle cx="763.4" cy="60.6" r="2.1" fill="#f6bcb8"/>
<circle cx="796.5" cy="112.4" r="1.8" fill="#e58b88"/>
<circle cx="757.9" cy="108.4" r="1.8" fill="#b84242"/>
<circle cx="814.1" cy="62.4" r="2.2" fill="#e58b88"/>
<circle cx="808.5" cy="80.3" r="2.7" fill="#f2aaa6"/>
<circle cx="767.8" cy="88.2" r="1.7" fill="#dd7a78"/>
<circle cx="811.5" cy="27.4" r="2.4" fill="#c04c4c"/>
<circle cx="753.1" cy="68.4" r="2.9" fill="#d46a68"/>
<circle cx="827.1" cy="83.0" r="1.9" fill="#c85454"/>
<circle cx="817.3" cy="115.0" r="1.6" fill="#b03a3b"/>
<circle cx="741.3" cy="56.4" r="2.2" fill="#b84242"/>
<circle cx="747.9" cy="67.6" r="2.5" fill="#eea09c"/>
<circle cx="798.6" cy="52.1" r="1.7" fill="#f2aaa6"/>
<circle cx="752.9" cy="35.0" r="2.6" fill="#c04c4c"/>
<circle cx="838.6" cy="74.4" r="1.7" fill="#c04c4c"/>
<circle cx="777.6" cy="54.1" r="2.0" fill="#dd7a78"/>
<circle cx="778.5" cy="57.9" r="2.9" fill="#f2aaa6"/>
<circle cx="815.4" cy="63.0" r="2.0" fill="#dd7a78"/>
<circle cx="757.0" cy="60.9" r="3.0" fill="#e58b88"/>
<circle cx="775.6" cy="121.4" r="1.7" fill="#b84242"/>
<circle cx="768.2" cy="71.5" r="2.8" fill="#e58b88"/>
<circle cx="796.2" cy="92.7" r="1.9" fill="#f2aaa6"/>
<circle cx="758.6" cy="98.9" r="2.9" fill="#c85454"/>
<circle cx="760.0" cy="40.3" r="2.8" fill="#eea09c"/>
<circle cx="754.6" cy="64.3" r="2.6" fill="#e58b88"/>
<circle cx="811.9" cy="45.2" r="1.9" fill="#eea09c"/>
<circle cx="825.2" cy="41.4" r="2.5" fill="#c04c4c"/>
<circle cx="834.6" cy="96.2" r="1.6" fill="#b84242"/>
<circle cx="821.8" cy="99.5" r="2.1" fill="#d46a68"/>
<circle cx="795.6" cy="79.5" r="1.8" fill="#dd7a78"/>
<circle cx="783.2" cy="63.9" r="2.6" fill="#dd7a78"/>
<circle cx="827.2" cy="88.8" r="1.9" fill="#e08280"/>
<circle cx="827.1" cy="61.6" r="1.7" fill="#eea09c"/>
<circle cx="824.1" cy="35.1" r="1.7" fill="#c04c4c"/>
<circle cx="794.9" cy="89.5" r="2.9" fill="#dd7a78"/>
<circle cx="829.0" cy="48.2" r="2.8" fill="#b03a3b"/>
<circle cx="770.8" cy="51.6" r="1.8" fill="#dd7a78"/>
<circle cx="801.1" cy="31.4" r="2.0" fill="#e08280"/>
<circle cx="783.2" cy="76.0" r="2.9" fill="#f2aaa6"/>
<circle cx="834.0" cy="86.3" r="2.7" fill="#a93436"/>
<circle cx="760.7" cy="50.7" r="2.5" fill="#e08280"/>
<circle cx="823.4" cy="79.1" r="2.3" fill="#c85454"/>
<circle cx="819.5" cy="93.5" r="2.4" fill="#c95757"/>
<circle cx="800.2" cy="120.6" r="2.4" fill="#b03a3b"/>
<circle cx="781.9" cy="106.5" r="1.9" fill="#e58b88"/>
<circle cx="794.0" cy="20.3" r="2.1" fill="#b03a3b"/>
<circle cx="826.4" cy="97.5" r="3.0" fill="#d46a68"/>
<circle cx="746.7" cy="44.1" r="2.4" fill="#a93436"/>
<circle cx="815.9" cy="112.7" r="2.3" fill="#b84242"/>
<circle cx="822.5" cy="99.4" r="2.3" fill="#c95757"/>
<circle cx="829.6" cy="70.3" r="2.5" fill="#c95757"/>
<circle cx="769.4" cy="98.9" r="2.8" fill="#c85454"/>
<circle cx="789.0" cy="38.1" r="1.6" fill="#eea09c"/>
<circle cx="797.4" cy="98.6" r="2.3" fill="#f6bcb8"/>
<circle cx="753.9" cy="106.7" r="2.9" fill="#b84242"/>
<circle cx="818.5" cy="101.7" r="2.7" fill="#eea09c"/>
<circle cx="771.1" cy="47.7" r="2.3" fill="#e08280"/>
<circle cx="814.0" cy="46.3" r="2.6" fill="#e58b88"/>
<circle cx="807.0" cy="103.2" r="2.4" fill="#e08280"/>
<circle cx="815.3" cy="98.1" r="1.9" fill="#eea09c"/>
<circle cx="800.4" cy="99.6" r="2.8" fill="#f2aaa6"/>
<circle cx="756.7" cy="42.2" r="2.6" fill="#b84242"/>
<circle cx="765.1" cy="53.7" r="2.1" fill="#d46a68"/>
<circle cx="809.5" cy="121.0" r="1.8" fill="#b03a3b"/>
<circle cx="777.2" cy="52.9" r="3.0" fill="#e58b88"/>
<circle cx="802.6" cy="29.0" r="2.0" fill="#c04c4c"/>
<circle cx="829.1" cy="104.5" r="1.9" fill="#a93436"/>
<circle cx="782.6" cy="78.8" r="2.8" fill="#d46a68"/>
<circle cx="767.0" cy="82.2" r="2.0" fill="#f2aaa6"/>
<circle cx="816.6" cy="76.2" r="2.2" fill="#f2aaa6"/>
<circle cx="787.1" cy="22.2" r="2.6" fill="#c04c4c"/>
<circle cx="753.7" cy="50.3" r="2.5" fill="#d46a68"/>
<circle cx="761.5" cy="31.9" r="2.6" fill="#b84242"/>
<circle cx="767.5" cy="44.8" r="2.0" fill="#e08280"/>
<circle cx="774.7" cy="24.8" r="2.7" fill="#b84242"/>
<circle cx="780.4" cy="31.6" r="2.8" fill="#e08280"/>
<circle cx="782.6" cy="73.3" r="2.2" fill="#f9cdca"/>
<circle cx="766.9" cy="27.0" r="2.9" fill="#b84242"/>
<circle cx="787.4" cy="77.3" r="2.3" fill="#f9cdca"/>
<circle cx="800.2" cy="70.9" r="1.9" fill="#f6bcb8"/>
<circle cx="779.1" cy="22.0" r="2.3" fill="#b84242"/>
<circle cx="822.3" cy="96.3" r="1.9" fill="#e58b88"/>
<circle cx="783.4" cy="73.5" r="2.8" fill="#f9cdca"/>
<circle cx="756.4" cy="67.9" r="1.9" fill="#c85454"/>
<circle cx="776.7" cy="42.1" r="2.6" fill="#c95757"/>
<circle cx="758.1" cy="44.8" r="2.0" fill="#e08280"/>
<circle cx="785.1" cy="76.1" r="2.9" fill="#d46a68"/>
<circle cx="760.0" cy="41.1" r="2.0" fill="#e58b88"/>
<circle cx="797.3" cy="117.5" r="3.0" fill="#b84242"/>
<circle cx="824.9" cy="63.7" r="1.8" fill="#d46a68"/>
<circle cx="797.9" cy="25.5" r="2.3" fill="#b84242"/>
<circle cx="766.7" cy="62.9" r="2.1" fill="#e58b88"/>
<circle cx="759.2" cy="35.8" r="2.3" fill="#c04c4c"/>
<circle cx="779.2" cy="110.2" r="2.7" fill="#d46a68"/>
<circle cx="744.0" cy="81.5" r="2.0" fill="#b84242"/>
<circle cx="771.0" cy="91.2" r="2.6" fill="#d46a68"/>
<circle cx="742.8" cy="78.0" r="2.1" fill="#a93436"/>
<circle cx="773.1" cy="47.8" r="2.2" fill="#c85454"/>
<circle cx="762.1" cy="39.9" r="1.8" fill="#e08280"/>
<circle cx="779.2" cy="103.5" r="2.8" fill="#c95757"/>
<circle cx="828.9" cy="46.4" r="2.3" fill="#b84242"/>
<circle cx="767.3" cy="105.9" r="1.6" fill="#eea09c"/>
<circle cx="830.9" cy="59.7" r="2.5" fill="#e08280"/>
<circle cx="746.9" cy="49.3" r="2.7" fill="#b84242"/>
<circle cx="778.2" cy="89.5" r="2.7" fill="#d46a68"/>
<circle cx="814.6" cy="116.0" r="2.5" fill="#b03a3b"/>
<circle cx="826.9" cy="43.5" r="1.9" fill="#a93436"/>
<circle cx="776.4" cy="36.4" r="2.8" fill="#eea09c"/>
<circle cx="781.4" cy="56.6" r="2.0" fill="#dd7a78"/>
<circle cx="792.0" cy="92.2" r="2.4" fill="#d46a68"/>
<circle cx="739.9" cy="77.4" r="1.9" fill="#c04c4c"/>
<circle cx="810.9" cy="107.7" r="1.6" fill="#eea09c"/>
<circle cx="809.5" cy="42.0" r="2.3" fill="#e58b88"/>
<circle cx="779.5" cy="107.1" r="2.2" fill="#c85454"/>
<circle cx="804.1" cy="68.9" r="2.1" fill="#f2aaa6"/>
<circle cx="785.4" cy="66.5" r="2.6" fill="#dd7a78"/>
<circle cx="817.6" cy="59.8" r="2.3" fill="#c95757"/>
<circle cx="740.1" cy="77.3" r="1.9" fill="#b03a3b"/>
<circle cx="773.7" cy="82.0" r="2.8" fill="#dd7a78"/>
<circle cx="765.7" cy="99.7" r="2.4" fill="#e58b88"/>
<circle cx="814.0" cy="57.7" r="2.2" fill="#f2aaa6"/>
<circle cx="744.6" cy="56.5" r="2.1" fill="#a93436"/>
<circle cx="759.5" cy="73.7" r="2.8" fill="#e08280"/>
<circle cx="776.6" cy="92.3" r="2.7" fill="#d46a68"/>
<circle cx="775.5" cy="98.5" r="1.8" fill="#e08280"/>
<circle cx="805.4" cy="69.8" r="2.2" fill="#dd7a78"/>
<circle cx="758.2" cy="61.2" r="1.7" fill="#e58b88"/>
<circle cx="788.7" cy="76.5" r="2.8" fill="#e58b88"/>
<circle cx="744.3" cy="79.7" r="2.7" fill="#b03a3b"/>
<circle cx="824.9" cy="50.3" r="1.8" fill="#e58b88"/>
<circle cx="769.7" cy="33.5" r="1.7" fill="#eea09c"/>
<circle cx="830.8" cy="82.8" r="2.7" fill="#eea09c"/>
<circle cx="808.1" cy="85.9" r="2.2" fill="#dd7a78"/>
<circle cx="831.2" cy="102.7" r="2.1" fill="#b03a3b"/>
<circle cx="810.7" cy="30.4" r="2.8" fill="#a93436"/>
<circle cx="793.9" cy="81.5" r="2.2" fill="#dd7a78"/>
<circle cx="757.8" cy="32.7" r="2.3" fill="#b03a3b"/>
<circle cx="742.4" cy="65.8" r="2.4" fill="#c04c4c"/>
<circle cx="820.8" cy="55.2" r="2.6" fill="#c95757"/>
<circle cx="746.2" cy="43.2" r="2.3" fill="#b84242"/>
<circle cx="775.6" cy="81.3" r="2.3" fill="#f2aaa6"/>
<circle cx="823.2" cy="47.0" r="1.6" fill="#c85454"/>
<circle cx="782.5" cy="55.6" r="1.7" fill="#f9cdca"/>
<circle cx="803.0" cy="58.6" r="2.0" fill="#dd7a78"/>
<circle cx="757.8" cy="57.6" r="1.9" fill="#eea09c"/>
<circle cx="834.3" cy="86.9" r="2.6" fill="#b84242"/>
<circle cx="826.2" cy="93.7" r="2.3" fill="#eea09c"/>
<circle cx="765.8" cy="28.8" r="2.6" fill="#b03a3b"/>
<circle cx="796.4" cy="73.0" r="2.6" fill="#f2aaa6"/>
<circle cx="765.7" cy="50.2" r="2.6" fill="#e08280"/>
<circle cx="814.7" cy="114.9" r="2.5" fill="#c04c4c"/>
<circle cx="769.1" cy="119.6" r="2.3" fill="#c04c4c"/>
<circle cx="816.1" cy="117.5" r="2.1" fill="#b03a3b"/>
<circle cx="764.2" cy="39.3" r="2.3" fill="#c85454"/>
<circle cx="796.3" cy="37.4" r="2.7" fill="#e08280"/>
<circle cx="763.9" cy="60.8" r="2.5" fill="#dd7a78"/>
<circle cx="762.4" cy="34.0" r="2.8" fill="#a93436"/>
<circle cx="789.0" cy="66.0" r="2.4" fill="#e58b88"/>
<circle cx="777.5" cy="104.8" r="2.1" fill="#d46a68"/>
<circle cx="773.7" cy="34.8" r="2.7" fill="#d46a68"/>
<circle cx="789.5" cy="74.6" r="2.0" fill="#f2aaa6"/>
<circle cx="817.9" cy="114.9" r="2.0" fill="#b03a3b"/>
<circle cx="821.7" cy="111.1" r="2.0" fill="#b84242"/>
<circle cx="818.2" cy="34.2" r="2.1" fill="#c04c4c"/>
<circle cx="823.9" cy="92.6" r="1.9" fill="#c85454"/>
<circle cx="790.1" cy="21.4" r="2.0" fill="#b84242"/>
<circle cx="821.1" cy="84.3" r="1.9" fill="#eea09c"/>
<circle cx="788.6" cy="118.3" r="2.2" fill="#c04c4c"/>
<circle cx="830.5" cy="97.4" r="1.9" fill="#b03a3b"/>
<circle cx="746.0" cy="48.5" r="2.3" fill="#a93436"/>
<circle cx="770.5" cy="60.2" r="1.7" fill="#e58b88"/>
<circle cx="799.8" cy="45.7" r="2.4" fill="#f6bcb8"/>
<circle cx="758.9" cy="94.4" r="1.9" fill="#d46a68"/>
<circle cx="822.9" cy="55.1" r="2.1" fill="#c95757"/>
<circle cx="775.3" cy="75.9" r="2.4" fill="#f2aaa6"/>
<circle cx="768.6" cy="104.1" r="1.7" fill="#c95757"/>
<circle cx="803.9" cy="119.9" r="2.4" fill="#c04c4c"/>
<circle cx="801.5" cy="122.1" r="2.2" fill="#a93436"/>
<circle cx="833.8" cy="57.2" r="2.0" fill="#b84242"/>
<circle cx="813.1" cy="78.1" r="2.1" fill="#e58b88"/>
<circle cx="799.7" cy="74.2" r="2.8" fill="#f2aaa6"/>
<circle cx="740.3" cy="85.8" r="2.8" fill="#b03a3b"/>
<circle cx="757.6" cy="33.4" r="2.0" fill="#b03a3b"/>
<circle cx="751.1" cy="55.8" r="2.3" fill="#eea09c"/>
<circle cx="810.0" cy="117.0" r="3.0" fill="#a93436"/>
<circle cx="814.9" cy="71.2" r="2.9" fill="#dd7a78"/>
<circle cx="802.0" cy="67.8" r="2.9" fill="#f6bcb8"/>
<circle cx="796.0" cy="62.7" r="2.3" fill="#f9cdca"/>
<circle cx="787.0" cy="26.4" r="1.7" fill="#c04c4c"/>
<circle cx="818.2" cy="108.8" r="2.5" fill="#b84242"/>
<circle cx="777.7" cy="111.3" r="1.7" fill="#eea09c"/>
<circle cx="778.0" cy="96.5" r="2.1" fill="#dd7a78"/>
<circle cx="764.4" cy="96.6" r="2.9" fill="#d46a68"/>
<circle cx="818.2" cy="49.8" r="2.7" fill="#d46a68"/>
<circle cx="816.7" cy="112.8" r="2.9" fill="#b03a3b"/>
<circle cx="823.4" cy="35.4" r="2.7" fill="#b84242"/>
<circle cx="839.2" cy="59.2" r="2.8" fill="#c04c4c"/>
<circle cx="765.4" cy="46.8" r="2.1" fill="#e08280"/>
<circle cx="791.8" cy="90.4" r="1.8" fill="#f2aaa6"/>
<circle cx="792.2" cy="84.9" r="2.2" fill="#f2aaa6"/>
<circle cx="816.9" cy="50.0" r="2.0" fill="#d46a68"/>
<circle cx="772.2" cy="83.5" r="2.4" fill="#f2aaa6"/>
<circle cx="776.3" cy="117.9" r="2.3" fill="#a93436"/>
<circle cx="769.1" cy="118.3" r="1.8" fill="#b03a3b"/>
<circle cx="748.1" cy="68.9" r="2.9" fill="#eea09c"/>
<circle cx="745.0" cy="54.7" r="2.0" fill="#b03a3b"/>
<circle cx="799.6" cy="103.0" r="3.0" fill="#e08280"/>
<circle cx="804.7" cy="65.0" r="2.2" fill="#f2aaa6"/>
<circle cx="815.3" cy="113.6" r="1.8" fill="#a93436"/>
<circle cx="767.5" cy="45.4" r="2.1" fill="#e58b88"/>
<circle cx="791.5" cy="74.3" r="2.9" fill="#f9cdca"/>
<circle cx="782.8" cy="103.4" r="2.9" fill="#c95757"/>
<circle cx="797.9" cy="111.7" r="2.8" fill="#d46a68"/>
<circle cx="764.8" cy="69.1" r="1.9" fill="#e58b88"/>
<circle cx="803.7" cy="80.0" r="2.6" fill="#f6bcb8"/>
<circle cx="791.6" cy="50.4" r="2.5" fill="#e58b88"/>
<circle cx="777.5" cy="26.5" r="1.9" fill="#a93436"/>
<circle cx="831.5" cy="90.7" r="2.8" fill="#c04c4c"/>
<circle cx="822.9" cy="53.4" r="2.1" fill="#e08280"/>
<circle cx="816.9" cy="31.3" r="1.7" fill="#c04c4c"/>
<circle cx="751.0" cy="97.4" r="2.8" fill="#b84242"/>
<circle cx="787.7" cy="95.2" r="3.0" fill="#f9cdca"/>
<circle cx="833.2" cy="82.6" r="2.1" fill="#b03a3b"/>
<circle cx="837.4" cy="51.0" r="1.8" fill="#b03a3b"/>
<circle cx="779.4" cy="25.9" r="2.7" fill="#a93436"/>
<circle cx="817.1" cy="42.9" r="2.0" fill="#c95757"/>
<circle cx="825.3" cy="100.8" r="2.3" fill="#c04c4c"/>
<circle cx="751.9" cy="65.1" r="1.9" fill="#c95757"/>
<circle cx="825.4" cy="94.5" r="1.7" fill="#d46a68"/>
<circle cx="789.9" cy="120.3" r="1.6" fill="#b03a3b"/>
<circle cx="830.7" cy="52.2" r="1.6" fill="#a93436"/>
<circle cx="757.4" cy="49.0" r="1.9" fill="#e58b88"/>
<circle cx="760.6" cy="83.3" r="2.6" fill="#c95757"/>
<circle cx="807.8" cy="77.7" r="2.4" fill="#d46a68"/>
<circle cx="791.3" cy="55.0" r="2.2" fill="#dd7a78"/>
<circle cx="816.5" cy="103.4" r="1.8" fill="#d46a68"/>
<circle cx="749.0" cy="52.3" r="2.9" fill="#b84242"/>
<circle cx="831.9" cy="77.4" r="2.2" fill="#eea09c"/>
<circle cx="810.5" cy="40.1" r="3.0" fill="#c85454"/>
<circle cx="788.3" cy="67.5" r="9.5" fill="#d9706e"/>
<polygon points="788.3,59.9 790.8,64.0 795.5,65.2 792.4,68.8 792.8,73.6 788.3,71.8 783.8,73.6 784.2,68.8 781.1,65.2 785.8,64.0" fill="#f9cfce" stroke="#f0a9a6" stroke-width="1.5" stroke-linejoin="round"/>
<circle cx="789.1" cy="27.2" r="2.5" fill="#f5cd74"/>
<circle cx="786.1" cy="28.6" r="2.5" fill="#f5cd74"/>
<circle cx="784.7" cy="25.7" r="2.5" fill="#f5cd74"/>
<circle cx="787.6" cy="24.3" r="2.5" fill="#f2c261"/>
<circle cx="771.0" cy="18.3" r="2.5" fill="#eeb755"/>
<circle cx="771.7" cy="21.4" r="2.5" fill="#f5cd74"/>
<circle cx="768.6" cy="22.2" r="2.5" fill="#eeb755"/>
<circle cx="767.8" cy="19.0" r="2.5" fill="#f5cd74"/>
<circle cx="755.1" cy="35.2" r="2.5" fill="#eeb755"/>
<circle cx="756.3" cy="38.2" r="2.5" fill="#f2c261"/>
<circle cx="753.3" cy="39.4" r="2.5" fill="#f5cd74"/>
<circle cx="752.1" cy="36.4" r="2.5" fill="#eeb755"/>
<circle cx="772.7" cy="43.8" r="2.5" fill="#eeb755"/>
<circle cx="769.5" cy="43.4" r="2.5" fill="#f5cd74"/>
<circle cx="769.9" cy="40.2" r="2.5" fill="#f2c261"/>
<circle cx="773.1" cy="40.6" r="2.5" fill="#f5cd74"/>
<circle cx="803.4" cy="40.0" r="2.5" fill="#f2c261"/>
<circle cx="806.6" cy="40.8" r="2.5" fill="#f5cd74"/>
<circle cx="805.8" cy="44.0" r="2.5" fill="#f2c261"/>
<circle cx="802.6" cy="43.2" r="2.5" fill="#eeb755"/>
<circle cx="822.0" cy="41.0" r="2.5" fill="#f5cd74"/>
<circle cx="819.0" cy="39.8" r="2.5" fill="#f5cd74"/>
<circle cx="820.2" cy="36.8" r="2.5" fill="#f2c261"/>
<circle cx="823.2" cy="38.0" r="2.5" fill="#eeb755"/>
<circle cx="736.0" cy="46.2" r="2.5" fill="#f2c261"/>
<circle cx="739.1" cy="47.1" r="2.5" fill="#f2c261"/>
<circle cx="738.2" cy="50.2" r="2.5" fill="#f5cd74"/>
<circle cx="735.1" cy="49.3" r="2.5" fill="#f5cd74"/>
<circle cx="756.1" cy="52.2" r="2.5" fill="#f5cd74"/>
<circle cx="758.0" cy="54.8" r="2.5" fill="#eeb755"/>
<circle cx="755.4" cy="56.7" r="2.5" fill="#f2c261"/>
<circle cx="753.5" cy="54.1" r="2.5" fill="#f2c261"/>
<circle cx="789.1" cy="51.8" r="2.5" fill="#eeb755"/>
<circle cx="786.4" cy="53.6" r="2.5" fill="#eeb755"/>
<circle cx="784.6" cy="50.8" r="2.5" fill="#f5cd74"/>
<circle cx="787.4" cy="49.1" r="2.5" fill="#eeb755"/>
<circle cx="803.9" cy="60.6" r="2.5" fill="#eeb755"/>
<circle cx="807.1" cy="60.6" r="2.5" fill="#eeb755"/>
<circle cx="807.2" cy="63.8" r="2.5" fill="#f2c261"/>
<circle cx="803.9" cy="63.9" r="2.5" fill="#eeb755"/>
<circle cx="821.4" cy="58.9" r="2.5" fill="#f2c261"/>
<circle cx="818.2" cy="59.4" r="2.5" fill="#eeb755"/>
<circle cx="817.7" cy="56.2" r="2.5" fill="#f2c261"/>
<circle cx="820.9" cy="55.7" r="2.5" fill="#f5cd74"/>
<circle cx="835.3" cy="67.6" r="2.5" fill="#f2c261"/>
<circle cx="832.8" cy="65.5" r="2.5" fill="#f5cd74"/>
<circle cx="834.9" cy="63.0" r="2.5" fill="#f2c261"/>
<circle cx="837.4" cy="65.1" r="2.5" fill="#f5cd74"/>
<circle cx="737.3" cy="65.6" r="2.5" fill="#f2c261"/>
<circle cx="736.8" cy="62.4" r="2.5" fill="#f2c261"/>
<circle cx="740.0" cy="61.9" r="2.5" fill="#f2c261"/>
<circle cx="740.5" cy="65.1" r="2.5" fill="#eeb755"/>
<circle cx="759.5" cy="74.1" r="2.5" fill="#eeb755"/>
<circle cx="757.9" cy="76.9" r="2.5" fill="#f5cd74"/>
<circle cx="755.1" cy="75.2" r="2.5" fill="#f2c261"/>
<circle cx="756.7" cy="72.4" r="2.5" fill="#f5cd74"/>
<circle cx="774.0" cy="79.6" r="2.5" fill="#f2c261"/>
<circle cx="777.2" cy="78.9" r="2.5" fill="#f5cd74"/>
<circle cx="777.9" cy="82.1" r="2.5" fill="#f2c261"/>
<circle cx="774.8" cy="82.8" r="2.5" fill="#eeb755"/>
<circle cx="802.4" cy="82.6" r="2.5" fill="#f5cd74"/>
<circle cx="799.2" cy="82.4" r="2.5" fill="#f5cd74"/>
<circle cx="799.3" cy="79.2" r="2.5" fill="#eeb755"/>
<circle cx="802.6" cy="79.3" r="2.5" fill="#f5cd74"/>
<circle cx="819.2" cy="76.9" r="2.5" fill="#eeb755"/>
<circle cx="817.3" cy="74.3" r="2.5" fill="#f2c261"/>
<circle cx="819.9" cy="72.4" r="2.5" fill="#eeb755"/>
<circle cx="821.8" cy="75.0" r="2.5" fill="#eeb755"/>
<circle cx="749.0" cy="95.6" r="2.5" fill="#f5cd74"/>
<circle cx="747.3" cy="92.8" r="2.5" fill="#eeb755"/>
<circle cx="750.1" cy="91.1" r="2.5" fill="#eeb755"/>
<circle cx="751.8" cy="93.8" r="2.5" fill="#eeb755"/>
<circle cx="771.7" cy="100.2" r="2.5" fill="#f5cd74"/>
<circle cx="769.1" cy="98.4" r="2.5" fill="#f2c261"/>
<circle cx="770.9" cy="95.7" r="2.5" fill="#eeb755"/>
<circle cx="773.6" cy="97.6" r="2.5" fill="#eeb755"/>
<circle cx="797.8" cy="99.7" r="2.5" fill="#eeb755"/>
<circle cx="797.6" cy="96.4" r="2.5" fill="#f5cd74"/>
<circle cx="800.9" cy="96.3" r="2.5" fill="#eeb755"/>
<circle cx="801.0" cy="99.5" r="2.5" fill="#f5cd74"/>
<circle cx="821.9" cy="95.3" r="2.5" fill="#f5cd74"/>
<circle cx="823.7" cy="92.6" r="2.5" fill="#f2c261"/>
<circle cx="826.5" cy="94.4" r="2.5" fill="#f2c261"/>
<circle cx="824.7" cy="97.1" r="2.5" fill="#f5cd74"/>
<circle cx="838.6" cy="84.7" r="2.5" fill="#eeb755"/>
<circle cx="835.9" cy="82.8" r="2.5" fill="#eeb755"/>
<circle cx="837.8" cy="80.2" r="2.5" fill="#f5cd74"/>
<circle cx="840.5" cy="82.0" r="2.5" fill="#eeb755"/>
<circle cx="785.0" cy="116.5" r="2.5" fill="#f5cd74"/>
<circle cx="785.5" cy="113.3" r="2.5" fill="#f2c261"/>
<circle cx="788.7" cy="113.7" r="2.5" fill="#f2c261"/>
<circle cx="788.3" cy="116.9" r="2.5" fill="#f5cd74"/>
<circle cx="767.6" cy="123.6" r="2.5" fill="#f5cd74"/>
<circle cx="770.6" cy="122.3" r="2.5" fill="#f5cd74"/>
<circle cx="771.9" cy="125.2" r="2.5" fill="#f5cd74"/>
<circle cx="769.0" cy="126.6" r="2.5" fill="#f2c261"/>
<circle cx="823.6" cy="118.8" r="2.5" fill="#f2c261"/>
<circle cx="822.0" cy="116.0" r="2.5" fill="#f2c261"/>
<circle cx="824.8" cy="114.4" r="2.5" fill="#eeb755"/>
<circle cx="826.4" cy="117.3" r="2.5" fill="#f2c261"/>
<circle cx="806.8" cy="118.3" r="2.5" fill="#f5cd74"/>
<circle cx="810.1" cy="117.9" r="2.5" fill="#f5cd74"/>
<circle cx="810.5" cy="121.2" r="2.5" fill="#eeb755"/>
<circle cx="807.2" cy="121.6" r="2.5" fill="#f2c261"/>
<circle cx="825.0" cy="30.9" r="2.5" fill="#f5cd74"/>
<circle cx="827.5" cy="28.8" r="2.5" fill="#f5cd74"/>
<circle cx="829.6" cy="31.3" r="2.5" fill="#eeb755"/>
<circle cx="827.1" cy="33.4" r="2.5" fill="#f2c261"/>
<circle cx="834.4" cy="49.5" r="2.5" fill="#eeb755"/>
<circle cx="836.9" cy="47.5" r="2.5" fill="#eeb755"/>
<circle cx="838.9" cy="50.1" r="2.5" fill="#f2c261"/>
<circle cx="836.3" cy="52.0" r="2.5" fill="#f5cd74"/>
<circle cx="802.8" cy="23.7" r="2.5" fill="#f5cd74"/>
<circle cx="802.0" cy="20.6" r="2.5" fill="#f2c261"/>
<circle cx="805.2" cy="19.8" r="2.5" fill="#eeb755"/>
<circle cx="806.0" cy="23.0" r="2.5" fill="#f2c261"/>
<circle cx="736.9" cy="77.8" r="2.5" fill="#f5cd74"/>
<circle cx="740.2" cy="77.6" r="2.5" fill="#eeb755"/>
<circle cx="740.4" cy="80.8" r="2.5" fill="#f2c261"/>
<circle cx="737.1" cy="81.0" r="2.5" fill="#eeb755"/>
<circle cx="761.9" cy="105.5" r="2.5" fill="#f5cd74"/>
<circle cx="762.2" cy="108.7" r="2.5" fill="#f5cd74"/>
<circle cx="759.0" cy="109.1" r="2.5" fill="#eeb755"/>
<circle cx="758.6" cy="105.9" r="2.5" fill="#eeb755"/>
<polyline points="726.7,302.0 714.7,294.0 705.3,316.7 676.0,340.7" fill="none" stroke="#3a2e2e" stroke-width="1.5" stroke-linecap="round" stroke-linejoin="round"/>
<polyline points="728.0,307.3 720.0,302.0 709.3,323.3 674.7,351.3" fill="none" stroke="#3a2e2e" stroke-width="1.5" stroke-linecap="round" stroke-linejoin="round"/>
<polyline points="744.8,310.0 746.7,330.0 761.3,351.3" fill="none" stroke="#3a2e2e" stroke-width="1.4" stroke-linecap="round" stroke-linejoin="round"/>
<polyline points="748.0,315.3 752.0,328.7 763.5,337.2" fill="none" stroke="#3a2e2e" stroke-width="1.3" stroke-linecap="round" stroke-linejoin="round"/>
<polyline points="749.3,290.5 757.3,282.0 774.7,292.7 804.0,300.1 820.0,287.3 838.7,267.3" fill="none" stroke="#3a2e2e" stroke-width="1.3" stroke-linecap="round" stroke-linejoin="round"/>
<polyline points="798.7,315.3 820.0,306.0 849.3,283.3" fill="none" stroke="#3a2e2e" stroke-width="1.3" stroke-linecap="round" stroke-linejoin="round"/>
<polyline points="720.0,315.3 696.0,316.7" fill="none" stroke="#3a2e2e" stroke-width="0.9" stroke-linecap="round" stroke-linejoin="round"/>
<polyline points="720.0,318.0 696.0,326.5" fill="none" stroke="#3a2e2e" stroke-width="0.9" stroke-linecap="round" stroke-linejoin="round"/>
<polyline points="721.9,316.7 724.0,330.0 723.5,340.7" fill="none" stroke="#3a2e2e" stroke-width="1.4" stroke-linecap="round" stroke-linejoin="round"/>
<polyline points="725.3,322.0 732.0,326.0 729.9,330.0" fill="none" stroke="#3a2e2e" stroke-width="1.2" stroke-linecap="round" stroke-linejoin="round"/>
<polygon points="752.0,292.1 774.7,293.5 805.3,298.5 801.3,301.2 772.0,299.6 753.3,295.9" fill="#8a7866" stroke="#4a3c34" stroke-width="0.6" stroke-linejoin="round"/>
<polygon points="744.0,299.3 766.7,296.9 780.0,301.5 796.0,311.3 812.0,319.9 808.0,325.2 788.0,327.1 769.3,322.0 753.3,312.9 744.8,310.0" fill="#d42a1b" stroke="#7a1a12" stroke-width="0.6" stroke-linejoin="round"/>
<polygon points="753.3,312.9 769.3,322.0 788.0,327.1 808.0,325.2 809.3,323.1 788.0,323.6 770.7,318.0 753.9,309.2" fill="#a81f14" stroke="none" stroke-width="0" stroke-linejoin="round"/>
<polyline points="750.7,294.8 772.0,298.8 788.0,305.5 801.3,316.1 811.5,321.5" fill="none" stroke="#2a2022" stroke-width="4.0" stroke-linecap="round" stroke-linejoin="round"/>
<polyline points="802.7,319.9 811.5,322.5" fill="none" stroke="#2a2022" stroke-width="5" stroke-linecap="round" stroke-linejoin="round"/>
<circle cx="764.0" cy="297.2" r="1.3" fill="#f2f2f2"/>
<circle cx="776.8" cy="300.7" r="1.3" fill="#f2f2f2"/>
<circle cx="789.3" cy="306.5" r="1.3" fill="#f2f2f2"/>
<circle cx="798.7" cy="314.0" r="1.3" fill="#f2f2f2"/>
<circle cx="806.1" cy="319.9" r="1.3" fill="#f2f2f2"/>
<ellipse cx="736.8" cy="302.0" rx="12" ry="15" fill="#2a2022" transform="rotate(28 736.8 302.0)"/>
<ellipse cx="745.3" cy="304.7" rx="6" ry="9" fill="#2a2022"/>
<circle cx="721.9" cy="315.9" r="4.2" fill="#2a2022"/>
<circle cx="728.0" cy="310.0" r="4" fill="#2a2022"/>
<circle cx="731.9" cy="298.3" r="1.2" fill="#e8e8e8"/>
<circle cx="727.7" cy="306.9" r="1.0" fill="#e8e8e8"/>
<circle cx="737.3" cy="308.4" r="1.0" fill="#e8e8e8"/>
<circle cx="746.7" cy="299.9" r="1.1" fill="#e8e8e8"/>
<circle cx="741.7" cy="305.3" r="0.8" fill="#e8e8e8"/>
<circle cx="723.3" cy="315.7" r="0.9" fill="#e8e8e8"/>
<rect x="0" y="449" width="873" height="1" fill="#f4f4f4"/>
</svg>
<div class="lb" id="l1" style="left:594px;top:47.3px;letter-spacing:0.1px">E Dimer</div>
<div class="lb" id="l2" style="left:592.8px;top:100.6px;letter-spacing:0.7px">M Protein</div>
<div class="lb" id="l3" style="left:593.2px;top:155.9px;letter-spacing:0.55px">Capsid Protein</div>
<div class="lb" id="l4" style="left:596.3px;top:244.8px;letter-spacing:0.35px">Genomic RNA</div>
<div class="ttl" id="t" style="left:436.8px;top:372px;">Zika Virus (ZIKV)</div>
</body></html>
